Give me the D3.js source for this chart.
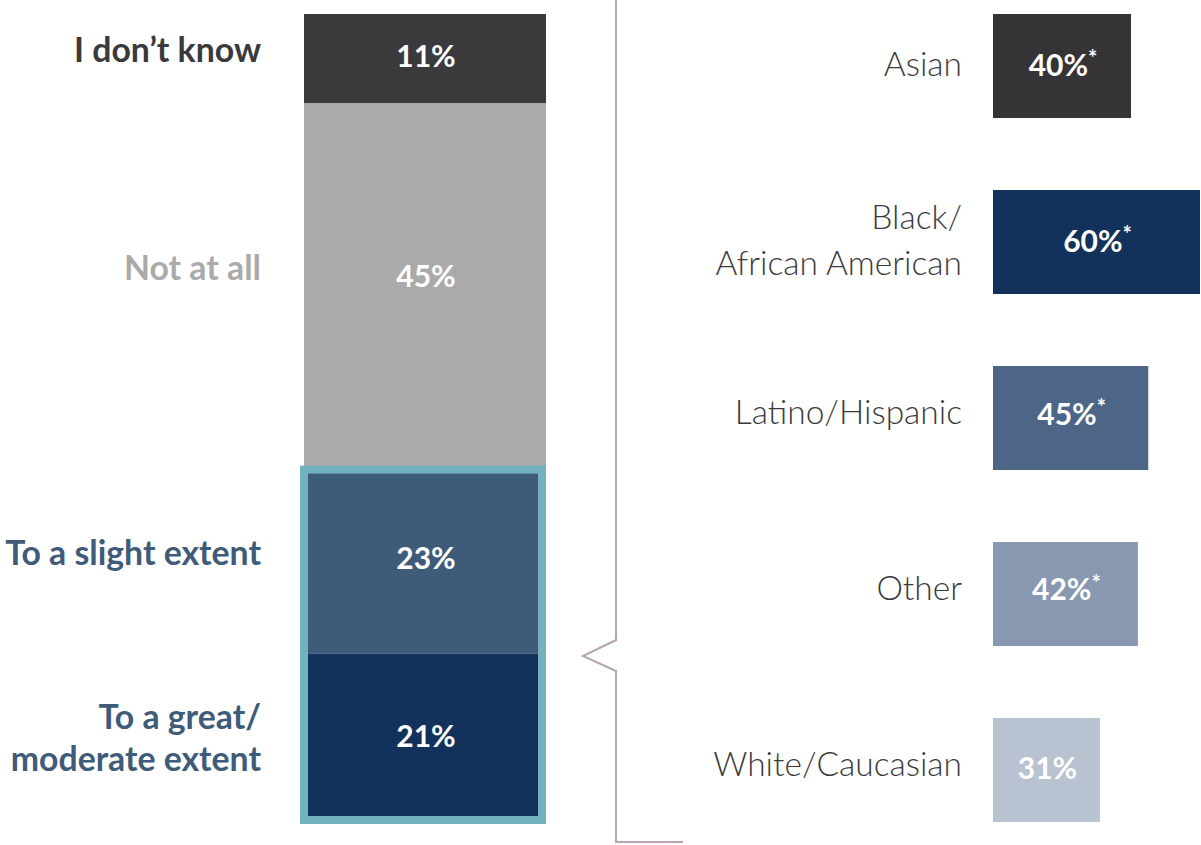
<!DOCTYPE html>
<html>
<head>
<meta charset="utf-8">
<script src="https://cdn.jsdelivr.net/npm/d3@7"></script>
<style>
  html, body { margin: 0; padding: 0; background: #fff; }
  svg { display: block; font-family: Lato, "Open Sans", sans-serif; }
</style>
</head>
<body>
<svg id="chart" width="1201" height="845"></svg>
<script>
// Overall responses (stacked, bottom to top)
const extentCategories = ["To a great/\nmoderate extent", "To a slight extent", "Not at all", "I don\u2019t know"];
const extentValues = [21, 23, 45, 11];
const extentColors = ["#13325b", "#3f5b7a", "#aaaaaa", "#3a3a3c"];
const extentLabelColors = ["#3f5b7a", "#3f5b7a", "#aaaaaa", "#3a3a3c"];

// Share answering "to any extent" by group
const groupCategories = ["Asian", "Black/\nAfrican American", "Latino/Hispanic", "Other", "White/Caucasian"];
const groupValues = [40, 60, 45, 42, 31];
const groupSignificant = [true, true, true, true, false];
const groupColors = ["#353336", "#13325b", "#4d6587", "#8798b0", "#b9c2d0"];

const svg = d3.select("#chart");

// ---- stacked column ----
const yStack = d3.scaleLinear().domain([0, 100]).range([824, 14]);
const xStack = d3.scaleBand().domain(["all"]).range([304, 546]);

let acc = 0;
const stackData = extentValues.map((v, i) => {
  const d = { cat: extentCategories[i], v, y0: acc, y1: acc + v, i };
  acc += v;
  return d;
});

const col = svg.append("g");
col.selectAll("rect").data(stackData).join("rect")
  .attr("x", xStack("all"))
  .attr("width", xStack.bandwidth())
  .attr("y", d => yStack(d.y1))
  .attr("height", d => yStack(d.y0) - yStack(d.y1))
  .attr("fill", d => extentColors[d.i]);

col.selectAll("text.val").data(stackData).join("text")
  .attr("class", "val")
  .attr("x", xStack("all") + xStack.bandwidth() / 2 + 1)
  .attr("y", d => (yStack(d.y0) + yStack(d.y1)) / 2 - (d.v > 40 ? 9 : 2))
  .attr("dy", "0.35em")
  .attr("text-anchor", "middle")
  .attr("fill", "#fff")
  .attr("font-size", 30)
  .attr("font-weight", 700)
  .text(d => d.v + "%");

// outline around the two "extent" segments
const topOfExtent = stackData[1].y1;
col.append("rect")
  .attr("x", xStack("all"))
  .attr("width", xStack.bandwidth() - 4)
  .attr("y", yStack(topOfExtent) + 2)
  .attr("height", yStack(0) - yStack(topOfExtent) - 6)
  .attr("fill", "none")
  .attr("stroke", "#72b1bd")
  .attr("stroke-width", 8);

// category labels to the left
const catLabels = col.selectAll("text.cat").data(stackData).join("text")
  .attr("class", "cat")
  .attr("text-anchor", "end")
  .attr("fill", d => extentLabelColors[d.i])
  .attr("font-size", 33.8)
  .attr("font-weight", 700);
catLabels.each(function (d) {
  const lines = d.cat.split("\n");
  const mid = (yStack(d.y0) + yStack(d.y1)) / 2;
  const lh = 42;
  const start = lines.length > 1 ? mid - lh * (lines.length - 1) / 2 - 1 : mid - (d.v > 40 ? 17 : 8);
  d3.select(this).selectAll("tspan").data(lines).join("tspan")
    .attr("x", 261)
    .attr("y", (l, k) => start + k * lh)
    .attr("dy", "0.35em")
    .text(l => l);
});

// ---- bracket ----
const bracket = d3.path();
bracket.moveTo(616, 0);
bracket.lineTo(616, 640);
bracket.lineTo(583, 656);
bracket.lineTo(616, 671);
bracket.lineTo(616, 842);
bracket.lineTo(683, 842);
svg.append("path")
  .attr("d", bracket.toString())
  .attr("fill", "none")
  .attr("stroke", "#b9a3b5")
  .attr("stroke-width", 2);

// ---- horizontal bars by group ----
const xGroup = d3.scaleLinear().domain([0, 60]).range([993, 1200]);
const yGroup = d3.scaleBand().domain(groupCategories).range([14, 822]).paddingInner(0.409).paddingOuter(0);

const gb = svg.append("g");
gb.selectAll("rect").data(groupCategories).join("rect")
  .attr("x", xGroup(0))
  .attr("y", d => yGroup(d))
  .attr("width", (d, i) => xGroup(groupValues[i]) - xGroup(0))
  .attr("height", yGroup.bandwidth())
  .attr("fill", (d, i) => groupColors[i]);

const vals = gb.selectAll("text.val").data(groupCategories).join("text")
  .attr("class", "val")
  .attr("x", (d, i) => (xGroup(0) + xGroup(groupValues[i])) / 2 + 1)
  .attr("y", (d, i) => yGroup(d) + yGroup.bandwidth() / 2 - (i > 1 && i < 4 ? 4 : 1))
  .attr("dy", "0.35em")
  .attr("text-anchor", "middle")
  .attr("fill", "#fff")
  .attr("font-size", 30)
  .attr("font-weight", 700);
vals.append("tspan").text((d, i) => groupValues[i] + "%");
vals.append("tspan")
  .attr("font-size", 22)
  .attr("dy", "-0.45em")
  .text((d, i) => groupSignificant[i] ? "*" : "");

const gl = gb.selectAll("text.cat").data(groupCategories).join("text")
  .attr("class", "cat")
  .attr("text-anchor", "end")
  .attr("fill", "#3a3a3c")
  .attr("font-size", 33.5)
  .attr("font-weight", 300);
gl.each(function (d, i) {
  const lines = d.split("\n");
  const mid = yGroup(d) + yGroup.bandwidth() / 2 - (i < 2 ? 2 : 6);
  const lh = 46;
  const start = mid - lh * (lines.length - 1) / 2;
  d3.select(this).selectAll("tspan").data(lines).join("tspan")
    .attr("x", 962)
    .attr("y", (l, k) => start + k * lh)
    .attr("dy", "0.35em")
    .text(l => l);
});
</script>
</body>
</html>
